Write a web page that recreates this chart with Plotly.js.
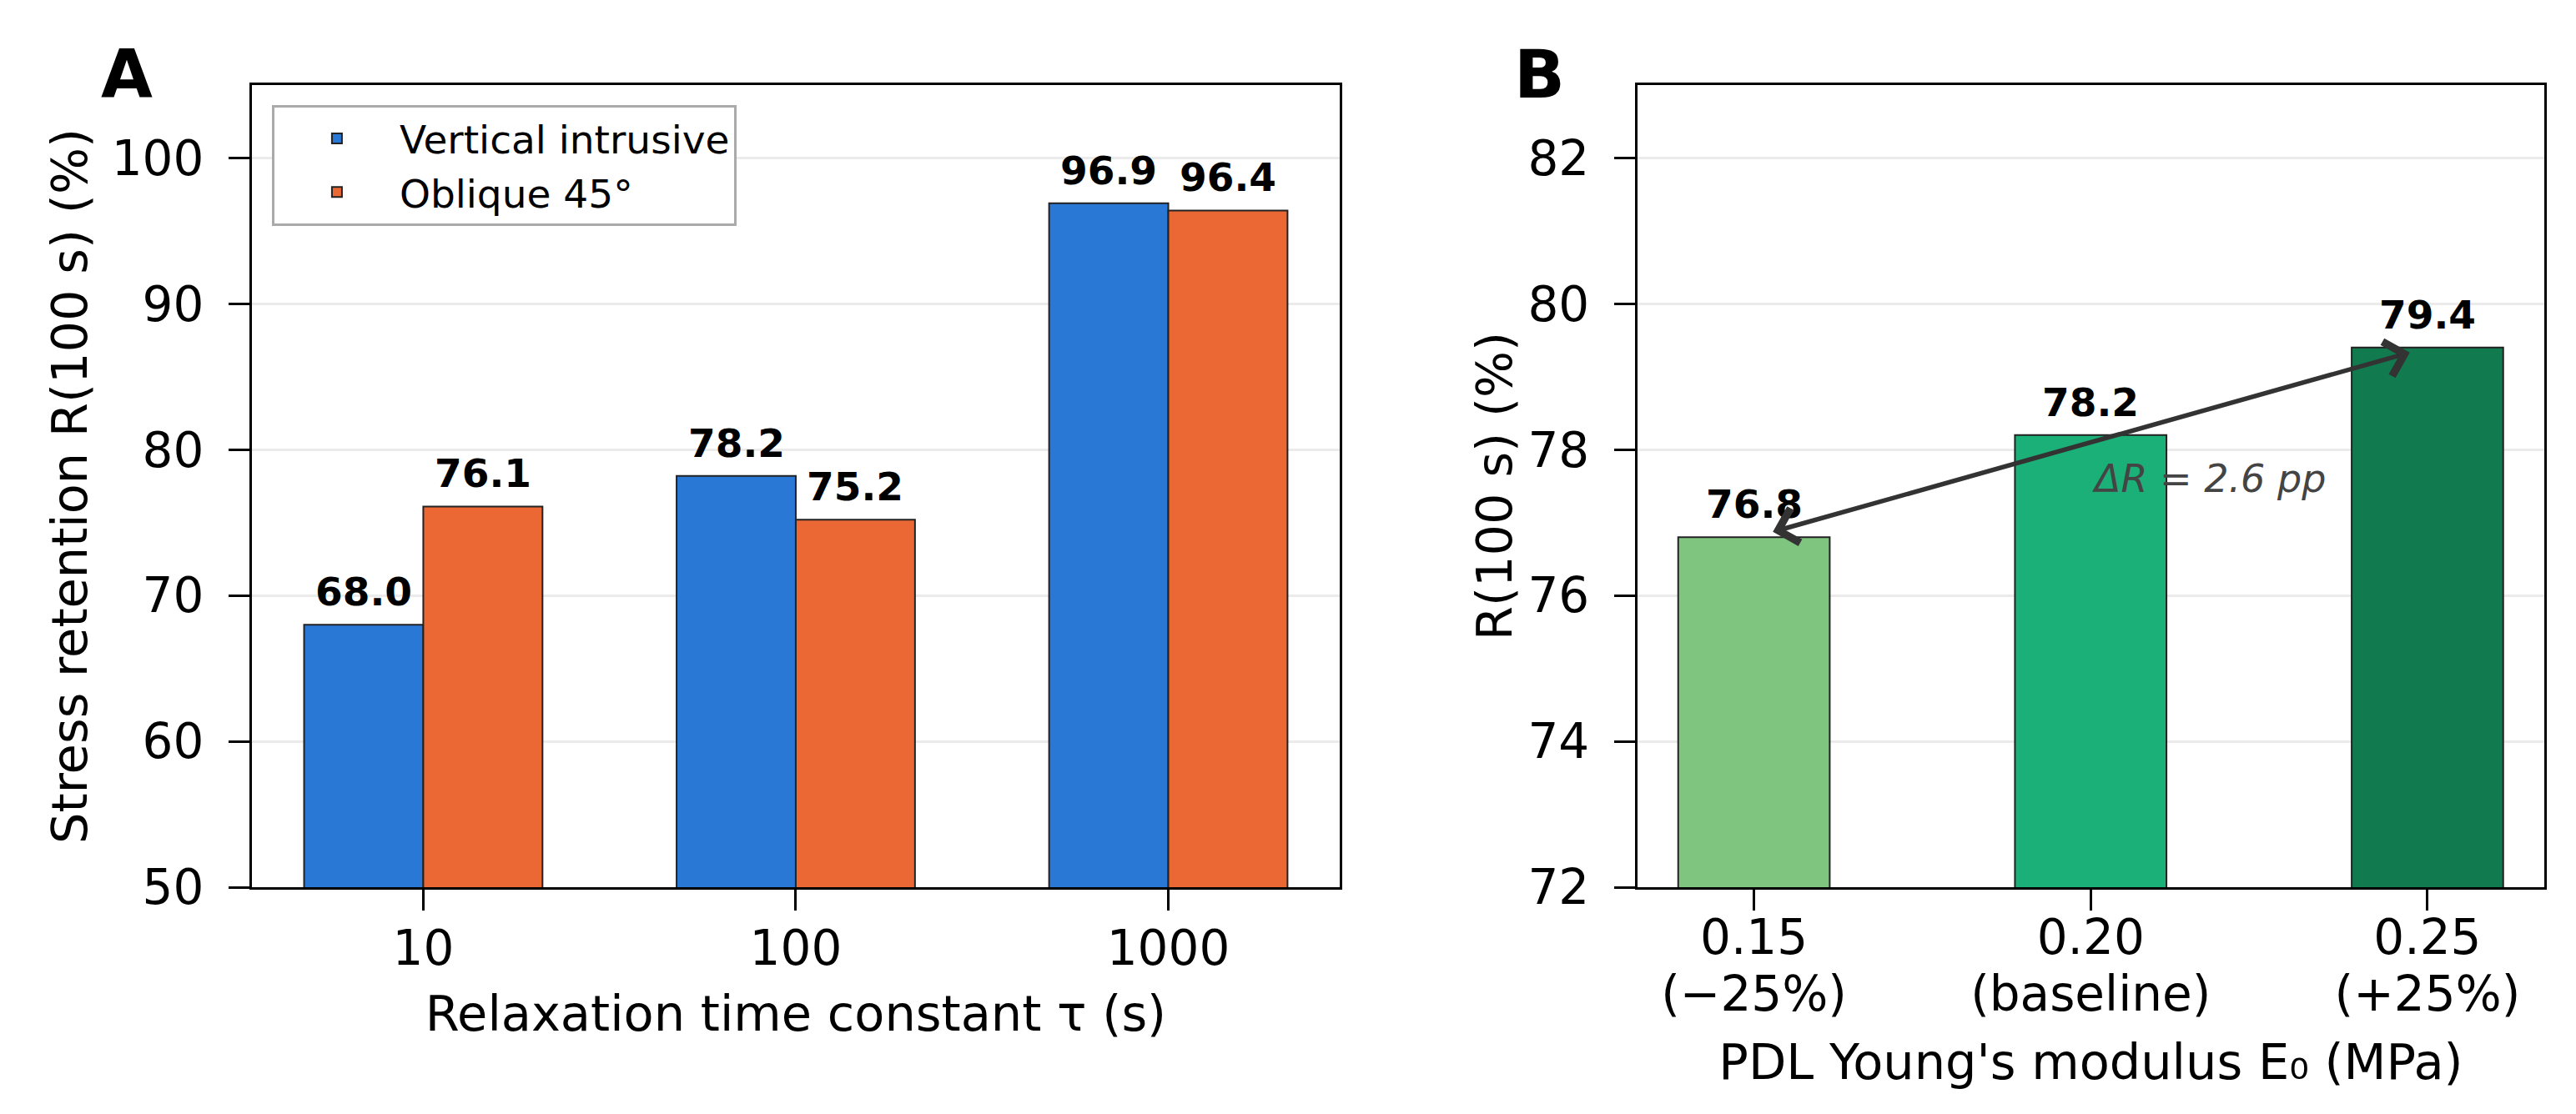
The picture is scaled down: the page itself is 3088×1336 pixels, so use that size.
<!DOCTYPE html>
<html>
<head>
<meta charset="utf-8">
<script src="https://cdn.plot.ly/plotly-3.0.1.min.js"></script>
<style>body{margin:0;background:#fff}</style>
</head>
<body>
<div id="myGraph" style="width:3088px;height:1336px"></div>
<script>
// panel A: retention vs relaxation time constant
let tauLabels = ['10', '100', '1000'];
let verticalRetention = [68.0, 78.2, 96.9];
let obliqueRetention = [76.1, 75.2, 96.4];
let seriesNames = ['Vertical intrusive', 'Oblique 45°'];
let seriesColors = ['#2a78d6', '#eb6835'];

// panel B: retention vs PDL modulus
let e0Values = ['0.15', '0.20', '0.25'];
let e0Changes = ['(−25%)', '(baseline)', '(+25%)'];
let e0Retention = [76.8, 78.2, 79.4];
let e0Colors = ['#7fc47f', '#1cb079', '#127a4f'];

let font = 'DejaVu Sans';
let barWidthA = 0.32;
let barWidthB = 0.45;

// two-line tick labels: spans keep glyphs large while the line spacing follows tickfont.size
let e0Labels = e0Values.map((v, i) =>
    '<span style="font-size:58px">' + v + '</span><br><span style="font-size:58px">' + e0Changes[i] + '</span>');

let trace1 = {
    type: 'bar',
    name: seriesNames[0],
    x: tauLabels,
    y: verticalRetention,
    offset: -barWidthA,
    width: barWidthA,
    marker: {color: seriesColors[0], line: {color: '#222', width: 2}},
    xaxis: 'x', yaxis: 'y'
};

let trace2 = {
    type: 'bar',
    name: seriesNames[1],
    x: tauLabels,
    y: obliqueRetention,
    offset: 0,
    width: barWidthA,
    marker: {color: seriesColors[1], line: {color: '#222', width: 2}},
    xaxis: 'x', yaxis: 'y'
};

let trace3 = {
    type: 'bar',
    x: e0Labels,
    y: e0Retention,
    width: barWidthB,
    showlegend: false,
    marker: {color: e0Colors, line: {color: '#222', width: 2}},
    xaxis: 'x2', yaxis: 'y2'
};

let data = [trace1, trace2, trace3];

// value labels above bars
let labelFont = {family: font, size: 47, color: 'black', weight: 'bold'};
function valueLabel(xref, yref, x, v) {
    return {
        xref: xref, yref: yref, x: x, y: v,
        text: v.toFixed(1), showarrow: false,
        xanchor: 'center', yanchor: 'bottom', yshift: 10,
        font: labelFont
    };
}
let labels = [];
verticalRetention.forEach((v, i) => labels.push(valueLabel('x', 'y', i - barWidthA / 2, v)));
obliqueRetention.forEach((v, i) => labels.push(valueLabel('x', 'y', i + barWidthA / 2, v)));
e0Retention.forEach((v, i) => labels.push(valueLabel('x2', 'y2', i, v)));

let tickFont = {family: font, size: 58, color: 'black'};
let titleFont = {family: font, size: 59, color: 'black'};

let xCommon = {
    type: 'category',
    showline: true, mirror: true, linecolor: 'black', linewidth: 3,
    ticks: 'outside', ticklen: 25, tickwidth: 3, tickcolor: 'black',
    showgrid: false, zeroline: false,
    tickfont: tickFont
};
let yCommon = {
    showline: true, mirror: true, linecolor: 'black', linewidth: 3,
    ticks: 'outside', ticklen: 25, tickwidth: 3, tickcolor: 'black',
    ticklabelstandoff: 18,
    showgrid: true, gridcolor: '#ebebeb', gridwidth: 3,
    zeroline: false,
    tickfont: tickFont
};

let dR = (e0Retention[2] - e0Retention[0]).toFixed(1);

let layout = {
    width: 3088,
    height: 1336,
    margin: {l: 302, r: 38, t: 102, b: 272},
    paper_bgcolor: 'white',
    plot_bgcolor: 'white',
    font: {family: font, color: 'black'},
    barmode: 'group',
    showlegend: true,
    legend: {
        x: 0.0087, y: 0.975, xanchor: 'left', yanchor: 'top',
        bgcolor: 'white', bordercolor: '#aaaaaa', borderwidth: 3,
        font: {family: font, size: 47, color: 'black'},
        itemwidth: 140
    },
    xaxis: Object.assign({}, xCommon, {
        domain: [0, 0.4745],
        anchor: 'y',
        range: [-0.46, 2.46],
        ticklabelstandoff: -5,
        title: {text: 'Relaxation time constant τ (s)', font: titleFont, standoff: 26}
    }),
    yaxis: Object.assign({}, yCommon, {
        domain: [0, 1],
        anchor: 'x',
        range: [50, 105],
        dtick: 10,
        title: {text: 'Stress retention R(100 s) (%)', font: titleFont, standoff: 11}
    }),
    xaxis2: Object.assign({}, xCommon, {
        domain: [0.6044, 1],
        anchor: 'y2',
        range: [-0.346, 2.347],
        tickfont: {family: font, size: 52, color: 'black'},
        ticklabelstandoff: -10,
        title: {text: "PDL Young's modulus E₀ (MPa)", font: titleFont, standoff: 28}
    }),
    yaxis2: Object.assign({}, yCommon, {
        domain: [0, 1],
        anchor: 'x2',
        range: [72, 83],
        dtick: 2,
        title: {text: 'R(100 s) (%)', font: titleFont, standoff: 0}
    }),
    annotations: labels.concat([
        {
            xref: 'paper', yref: 'paper', x: -0.0546, y: 1.0125,
            xanchor: 'center', yanchor: 'middle', showarrow: false,
            text: '<b>A</b>', font: {family: font, size: 80, color: 'black'}
        },
        {
            xref: 'paper', yref: 'paper', x: 0.5615, y: 1.0125,
            xanchor: 'center', yanchor: 'middle', showarrow: false,
            text: '<b>B</b>', font: {family: font, size: 80, color: 'black'}
        },
        {
            xref: 'x2', yref: 'y2', axref: 'x2', ayref: 'y2',
            x: 2, y: e0Retention[2], ax: 0, ay: e0Retention[0],
            text: '', showarrow: true,
            arrowside: 'end+start', arrowhead: 4, startarrowhead: 4,
            arrowsize: 1.5, startarrowsize: 1.5, arrowwidth: 5.5, arrowcolor: '#333333',
            standoff: 22, startstandoff: 22
        },
        {
            xref: 'x2', yref: 'y2', x: 1, y: 77.6,
            xanchor: 'left', yanchor: 'middle', showarrow: false,
            text: '<i>ΔR = ' + dR + ' pp</i>',
            font: {family: font, size: 46, color: '#444444'}
        }
    ])
};

Plotly.newPlot('myGraph', data, layout, {staticPlot: true});
</script>
</body>
</html>
